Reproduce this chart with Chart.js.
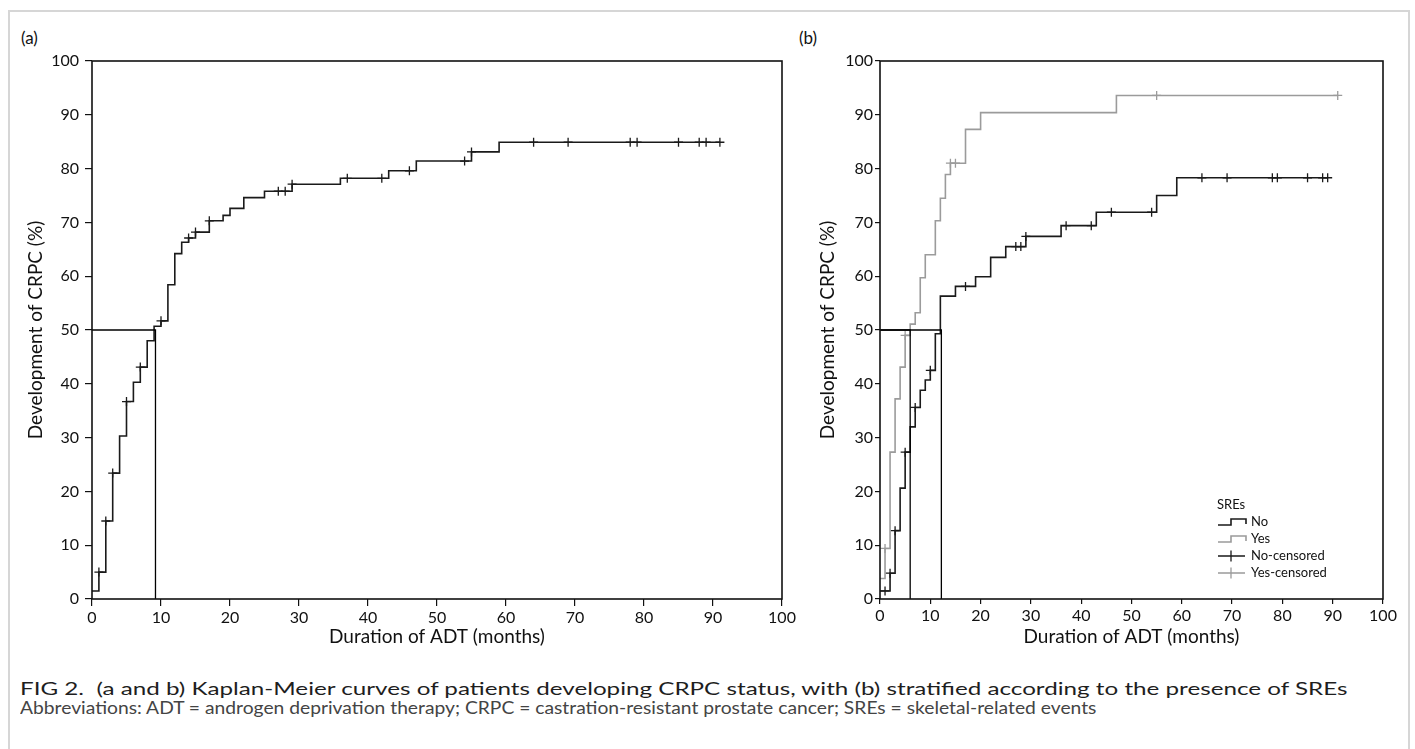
<!DOCTYPE html>
<html>
<head>
<meta charset="utf-8">
<script src="https://cdn.jsdelivr.net/npm/chart.js@4.4.1/dist/chart.umd.min.js"></script>
<style>
  body { margin: 0; background: #fff; font-family: Lato, "Open Sans", sans-serif; }
  #fig { position: relative; width: 1415px; height: 749px; overflow: hidden; }
  #frame { position: absolute; left: 8px; top: 10px; width: 1398px; height: 800px; border: 2px solid #d6d6d6; }
  .panel { position: absolute; }
  .plabel { position: absolute; font-size: 17px; color: #111; }
  #legend { position: absolute; left: 1217px; top: 496px; font-size: 13px; color: #111; line-height: 17px; }
  #legend .row { display: flex; align-items: center; }
  #legend svg { width: 30px; height: 14px; margin-right: 4px; }
  .cap { position: absolute; left: 20px; white-space: pre; transform-origin: 0 50%; }
  #cap1 { top: 677px; font-size: 18px; color: #1e1e1e; }
  #cap2 { top: 697px; font-size: 17px; color: #444; }
</style>
</head>
<body>
<div id="fig">
  <div id="frame"></div>
  <div class="plabel" style="left:21px; top:27px;">(a)</div>
  <div class="plabel" style="left:799px; top:27px;">(b)</div>
  <div class="panel" style="left:0; top:40px;"><canvas id="chartA" width="800" height="610"></canvas></div>
  <div class="panel" style="left:800px; top:40px;"><canvas id="chartB" width="615" height="610"></canvas></div>
  <div id="legend">
    <div>SREs</div>
    <div class="row"><svg viewBox="0 0 30 14"><polyline points="1,10 14,10 14,4 29,4 29,9" fill="none" stroke="#1a1a1a" stroke-width="1.6"/></svg>No</div>
    <div class="row"><svg viewBox="0 0 30 14"><polyline points="1,10 14,10 14,4 29,4 29,9" fill="none" stroke="#9b9b9b" stroke-width="1.6"/></svg>Yes</div>
    <div class="row"><svg viewBox="0 0 30 14"><path d="M1,7 H28 M14,1.5 V12.5" stroke="#1a1a1a" stroke-width="1.3"/></svg>No-censored</div>
    <div class="row"><svg viewBox="0 0 30 14"><path d="M1,7 H28 M14,1.5 V12.5" stroke="#9b9b9b" stroke-width="1.3"/></svg>Yes-censored</div>
  </div>
  <div class="cap" id="cap1">FIG 2.  (a and b) Kaplan-Meier curves of patients developing CRPC status, with (b) stratified according to the presence of SREs</div>
  <div class="cap" id="cap2">Abbreviations: ADT = androgen deprivation therapy; CRPC = castration-resistant prostate cancer; SREs = skeletal-related events</div>
</div>

<script>
// (a) all patients: step times (months) and cumulative CRPC (%) after each step
const aEventMonths = [0, 1, 2, 3, 4, 5, 6, 7, 8, 9, 10, 11, 12, 13, 14, 15, 17, 19, 20, 22, 25, 29, 36, 43, 47, 55, 59, 91];
const aEventPct = [1.5, 5.0, 14.5, 23.4, 30.3, 36.7, 40.3, 43.1, 48.0, 50.7, 51.7, 58.4, 64.2, 66.3, 67.1, 68.2, 70.3, 71.3, 72.6, 74.6, 75.8, 77.1, 78.2, 79.6, 81.4, 83.1, 84.9, 84.9];
const aCensorMonths = [1, 2, 3, 5, 7, 10, 14, 15, 17, 27, 28, 29, 37, 42, 46, 54, 55, 64, 69, 78, 79, 85, 88, 89, 91];
const aMedian = [9.2];

// (b) stratified by SREs
const noEventMonths = [0, 2, 3, 4, 5, 6, 7, 8, 9, 10, 11, 12, 15, 19, 22, 25, 29, 36, 43, 55, 59, 89];
const noEventPct = [1.5, 4.8, 12.7, 20.6, 27.3, 32.0, 35.6, 38.8, 40.7, 42.5, 49.3, 56.3, 58.1, 59.9, 63.5, 65.5, 67.4, 69.4, 71.9, 75.0, 78.3, 78.3];
const noCensorMonths = [1, 2, 3, 5, 7, 10, 17, 27, 28, 29, 37, 42, 46, 54, 64, 69, 78, 79, 85, 88, 89];
const yesEventMonths = [0, 1, 2, 3, 4, 5, 6, 7, 8, 9, 11, 12, 13, 14, 17, 20, 47, 91];
const yesEventPct = [3.8, 9.4, 27.3, 37.2, 43.1, 49.0, 51.1, 53.2, 59.7, 64.0, 70.3, 74.5, 78.9, 81.0, 87.3, 90.4, 93.6, 93.6];
const yesCensorMonths = [1, 5, 14, 15, 55, 91];
const bMedians = [6.0, 12.2];

const xTicks = [0, 10, 20, 30, 40, 50, 60, 70, 80, 90, 100];
const yTicks = [0, 10, 20, 30, 40, 50, 60, 70, 80, 90, 100];

const BLACK = '#1a1a1a';
const GREY = '#9b9b9b';
const FONT = 'Lato, "Open Sans", sans-serif';

// curve level at a given month (value of the last step at or before it)
function levelAt(months, pct, t) {
  let v = pct[0];
  for (let i = 0; i < months.length; i++) if (months[i] <= t) v = pct[i];
  return v;
}

function stepData(months, pct) {
  return months.map((m, i) => ({ x: m, y: pct[i] }));
}

function censorData(months, pct, cens) {
  return cens.map(t => ({ x: t, y: levelAt(months, pct, t) }));
}

function curve(months, pct, color) {
  return { data: stepData(months, pct), showLine: true, stepped: 'before',
    borderColor: color, borderWidth: 1.6, pointRadius: 0, fill: false };
}

function censors(months, pct, cens, color) {
  return { data: censorData(months, pct, cens), showLine: false, pointStyle: 'cross',
    pointRadius: 4.5, pointBorderWidth: 1.3, borderColor: color, pointBorderColor: color };
}

function medianLine(t) {
  return { data: [{ x: 0, y: 50 }, { x: t, y: 50 }, { x: t, y: 0 }], showLine: true,
    borderColor: '#000', borderWidth: 1.3, pointRadius: 0, fill: false };
}

// box around the plot area
const framePlugin = {
  id: 'frame',
  afterDatasetsDraw(chart) {
    const { ctx, chartArea: a } = chart;
    ctx.save();
    ctx.strokeStyle = '#111';
    ctx.lineWidth = 1.6;
    ctx.strokeRect(a.left, a.top, a.right - a.left, a.bottom - a.top);
    ctx.restore();
  }
};

function makeOptions(o) {
  return {
    responsive: false,
    animation: false,
    devicePixelRatio: 1,
    layout: { padding: { top: 21, right: o.right, left: 0, bottom: 0 } },
    plugins: { legend: { display: false }, tooltip: { enabled: false } },
    scales: {
      x: {
        type: 'linear', min: 0, max: 100,
        afterBuildTicks: s => { s.ticks = xTicks.map(v => ({ value: v })); },
        afterFit: s => { s.height = 51; },
        border: { display: false },
        grid: { drawOnChartArea: false, drawTicks: true, tickLength: o.tick, color: '#111', lineWidth: 1.2 },
        ticks: { color: '#111', font: { family: FONT, size: 16 }, padding: 2, maxRotation: 0 },
        title: { display: true, text: 'Duration of ADT (months)', color: '#111',
          font: { family: FONT, size: 19 }, padding: { top: 0, bottom: 2 } }
      },
      y: {
        type: 'linear', min: 0, max: 100,
        afterBuildTicks: s => { s.ticks = yTicks.map(v => ({ value: v })); },
        afterFit: s => { s.width = o.yWidth; },
        border: { display: false },
        grid: { drawOnChartArea: false, drawTicks: true, tickLength: o.tick, color: '#111', lineWidth: 1.2 },
        ticks: { color: '#111', font: { family: FONT, size: 16 }, padding: o.ypad },
        title: { display: true, text: 'Development of CRPC (%)', color: '#111',
          font: { family: FONT, size: 19 }, padding: { top: o.titlePad, bottom: 0 } }
      }
    }
  };
}

new Chart(document.getElementById('chartA'), {
  type: 'scatter',
  data: { datasets: [
    ...aMedian.map(medianLine),
    curve(aEventMonths, aEventPct, BLACK),
    censors(aEventMonths, aEventPct, aCensorMonths, BLACK)
  ] },
  options: makeOptions({ right: 18, yWidth: 92, tick: 7, ypad: 6, titlePad: 24 }),
  plugins: [framePlugin]
});

new Chart(document.getElementById('chartB'), {
  type: 'scatter',
  data: { datasets: [
    ...bMedians.map(medianLine),
    curve(yesEventMonths, yesEventPct, GREY),
    censors(yesEventMonths, yesEventPct, yesCensorMonths, GREY),
    curve(noEventMonths, noEventPct, BLACK),
    censors(noEventMonths, noEventPct, noCensorMonths, BLACK)
  ] },
  options: makeOptions({ right: 32, yWidth: 80, tick: 5, ypad: 2, titlePad: 16 }),
  plugins: [framePlugin]
});

// the printed caption is set wider than Lato; stretch each line to its measured width
[['cap1', 1327], ['cap2', 1076]].forEach(([id, w]) => {
  const el = document.getElementById(id);
  el.style.transform = `scaleX(${w / el.offsetWidth})`;
});
</script>
</body>
</html>
